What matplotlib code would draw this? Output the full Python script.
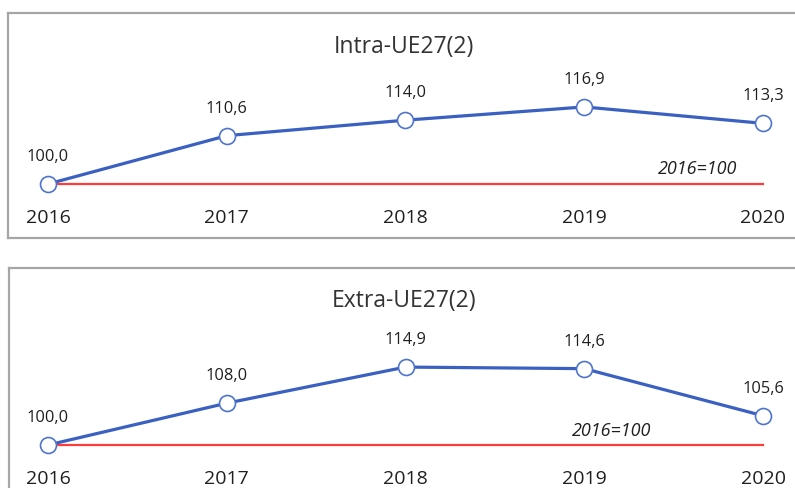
import matplotlib
matplotlib.use('Agg')
import matplotlib.pyplot as plt

years = ['2016', '2017', '2018', '2019', '2020']
intra_ue27 = [100.0, 110.6, 114.0, 116.9, 113.3]
extra_ue27 = [100.0, 108.0, 114.9, 114.6, 105.6]
base_value = 100
titles = ['Intra-UE27(2)', 'Extra-UE27(2)']
base_label = '2016=100'

plt.rcParams['font.family'] = ['Open Sans', 'DejaVu Sans']

W, H = 795, 488
fig = plt.figure(figsize=(W / 100, H / 100), dpi=100)

BLUE = '#3A60C2'
MEDGE = '#4F74CC'
RED = '#FF3B3B'
TXT = '#1F1F1F'

x_first, x_last = 48, 763
step = (x_last - x_first) / (len(years) - 1)

panels = [
    dict(vals=intra_ue27, title=titles[0], box=(8, 13, 815, 238), base_px=184, scale=4.56,
         title_y=47, note_xy=(698, 169)),
    dict(vals=extra_ue27, title=titles[1], box=(9, 268, 815, 505), base_px=445, scale=5.23,
         title_y=301, note_xy=(612, 431)),
]

for p in panels:
    x0, y0, x1, y1 = p['box']
    ax = fig.add_axes([x0 / W, 1 - y1 / H, (x1 - x0) / W, (y1 - y0) / H])
    ax.set_xlim((x0 - x_first) / step, (x1 - x_first) / step)
    bp, sc = p['base_px'], p['scale']
    ax.set_ylim(base_value + (bp - y1) / sc, base_value + (bp - y0) / sc)
    for s in ax.spines.values():
        s.set_color('#A6A6A6')
        s.set_linewidth(1.6)
    ax.set_xticks([])
    ax.set_yticks([])
    xs = list(range(len(years)))
    ax.plot([xs[0], xs[-1]], [base_value, base_value], color=RED, lw=1.6, zorder=2)
    ax.plot(xs, p['vals'], color=BLUE, lw=2.3, marker='o', markersize=11.5,
            markerfacecolor='white', markeredgecolor=MEDGE, markeredgewidth=1.2, zorder=3,
            clip_on=False)
    for i, v in enumerate(p['vals']):
        ax.annotate(f'{v:.1f}'.replace('.', ','), (i, v), xytext=(0, 27),
                    textcoords='offset pixels', ha='center', va='center',
                    fontsize=11.8, color=TXT)
        ax.annotate(years[i], (i, base_value), xytext=(0, -34),
                    textcoords='offset pixels', ha='center', va='center',
                    fontsize=14, color=TXT)
    fig.text(404 / W, 1 - p['title_y'] / H, p['title'], ha='center', va='center',
             fontsize=16.5, color='#333333')
    nx, ny = p['note_xy']
    fig.text(nx / W, 1 - ny / H, base_label, ha='center', va='center',
             fontsize=13, style='italic', color=TXT)

fig.savefig('out.png', dpi=100)
